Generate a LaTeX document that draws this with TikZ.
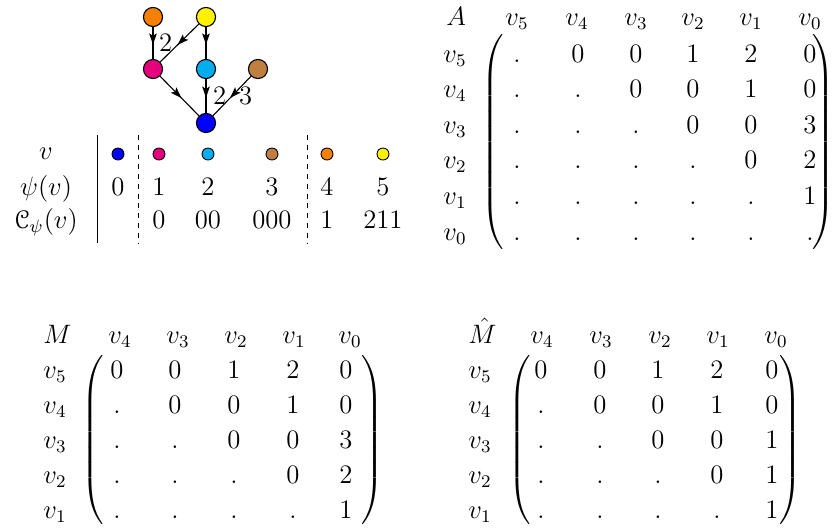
\documentclass[tikz,border=0pt]{standalone}
\usepackage{amsmath}
\usepackage{amssymb}
\usepackage{eucal}
\usepackage{xcolor}
\usepackage{tikz}
\usetikzlibrary{arrows.meta,positioning,decorations.markings}

\definecolor{vOrange}{RGB}{247,128,0}
\definecolor{vYellow}{RGB}{255,242,0}
\definecolor{vMagenta}{RGB}{230,0,126}
\definecolor{vCyan}{RGB}{0,174,239}
\definecolor{vBrown}{RGB}{191,127,63}
\definecolor{vBlue}{RGB}{0,0,255}

\begin{document}
\begin{tikzpicture}[
  x=0.45pt,
  y=-0.45pt,
  font=\fontsize{11.5pt}{14pt}\selectfont,
  vert/.style={circle,draw=black,line width=0.5pt,minimum size=8.6pt,inner sep=0pt},
  swatch/.style={circle,draw=black,line width=0.4pt,minimum size=5.4pt,inner sep=0pt},
  flow/.style={line width=0.5pt,postaction={decorate},
    decoration={markings,mark=at position 0.55 with {\arrow{Stealth[length=5pt,width=3.4pt,inset=1pt]}}}},
  wt/.style={inner sep=3pt},
  lab/.style={anchor=base,inner sep=0pt},
  rowlab/.style={anchor=base west,inner sep=0pt},
  sep/.style={line width=0.4pt},
  brk/.style={inner sep=0pt}
]
  \useasboundingbox (0,0) rectangle (834,531);

  % the graph
  \node[vert,fill=vOrange]  (g4) at (153,17)  {};
  \node[vert,fill=vYellow]  (g5) at (206,17)  {};
  \node[vert,fill=vMagenta] (g1) at (153,69)  {};
  \node[vert,fill=vCyan]    (g2) at (206,69)  {};
  \node[vert,fill=vBrown]   (g3) at (258,69)  {};
  \node[vert,fill=vBlue]    (g0) at (206,123) {};
  \draw[flow] (g4) -- (g1);
  \draw[flow] (g5) -- node[wt,left] {$2$} (g1);
  \draw[flow] (g5) -- (g2);
  \draw[flow] (g1) -- (g0);
  \draw[flow] (g2) -- node[wt,right] {$2$} (g0);
  \draw[flow] (g3) -- node[wt,right] {$3$} (g0);

  % the table
  \node[lab] (t-v)   at (46,159) {$v$};
  \node[lab] (t-psi) at (46,195) {$\psi(v)$};
  \node[lab] (t-c)   at (46,228) {$\mathcal{C}_{\psi}(v)$};
  \draw[sep] (97,135) -- (97,243);
  \draw[sep,dash pattern=on 2.2pt off 2.2pt] (138,135) -- (138,243);
  \draw[sep,dash pattern=on 2.2pt off 2.2pt] (307,135) -- (307,243);
  \foreach \col/\x/\code [count=\i from 0] in
      {vBlue/118/{},vMagenta/159/0,vCyan/208/00,vBrown/272/000,vOrange/327/1,vYellow/383/211} {
    \node[swatch,fill=\col] (s\i) at (\x,154) {};
    \node[lab] (p\i) at (\x,195) {$\i$};
    \node[lab] (c\i) at (\x,228) {$\code$};
  }

  % matrix A
  \node[rowlab] (a-name) at (446,25) {$A$};
  \foreach \k/\x [count=\j] in {5/517,4/577,3/636,2/693,1/751,0/810}
    \node[lab] (a-h\j) at (\x,25) {$v_{\k}$};
  \foreach \row [count=\r] in {{.,0,0,1,2,0},{.,.,0,0,1,0},{.,.,.,0,0,3},
                               {.,.,.,.,0,2},{.,.,.,.,.,1},{.,.,.,.,.,.}} {
    \pgfmathsetmacro{\y}{62+35.6*(\r-1)}
    \pgfmathtruncatemacro{\k}{6-\r}
    \node[rowlab] (a-r\r) at (443,\y) {$v_{\k}$};
    \foreach \e [count=\c] in \row {
      \pgfmathsetmacro{\x}{{517,578,636,693,751,810}[\c-1]}
      \node[lab] (a-\r-\c) at (\x,\y) {$\e$};
    }
  }
  \node[brk,anchor=west] (a-lp) at (481,143) {$\left(\vrule height 46pt depth 46pt width 0pt\right.$};
  \node[brk,anchor=east] (a-rp) at (835,143) {$\left.\vrule height 46pt depth 46pt width 0pt\right)$};

  % matrix M
  \node[rowlab] (m-name) at (43,343) {$M$};
  \foreach \k/\x [count=\j] in {4/120,3/178,2/236,1/294,0/350}
    \node[lab] (m-h\j) at (\x,343) {$v_{\k}$};
  \foreach \row [count=\r] in {{0,0,1,2,0},{.,0,0,1,0},{.,.,0,0,3},
                               {.,.,.,0,2},{.,.,.,.,1}} {
    \pgfmathsetmacro{\y}{378+35*(\r-1)}
    \pgfmathtruncatemacro{\k}{6-\r}
    \node[rowlab] (m-r\r) at (43,\y) {$v_{\k}$};
    \foreach \e [count=\c] in \row {
      \pgfmathsetmacro{\x}{{117,175,234,293,346}[\c-1]}
      \node[lab] (m-\r-\c) at (\x,\y) {$\e$};
    }
  }
  \node[brk,anchor=west] (m-lp) at (81,442) {$\left(\vrule height 37pt depth 37pt width 0pt\right.$};
  \node[brk,anchor=east] (m-rp) at (384,442) {$\left.\vrule height 37pt depth 37pt width 0pt\right)$};

  % matrix M hat
  \node[rowlab] (h-name) at (468,343) {$\hat{M}$};
  \foreach \k/\x [count=\j] in {4/542,3/601,2/660,1/718,0/776}
    \node[lab] (h-h\j) at (\x,343) {$v_{\k}$};
  \foreach \row [count=\r] in {{0,0,1,2,0},{.,0,0,1,0},{.,.,0,0,1},
                               {.,.,.,0,1},{.,.,.,.,1}} {
    \pgfmathsetmacro{\y}{378+35*(\r-1)}
    \pgfmathtruncatemacro{\k}{6-\r}
    \node[rowlab] (h-r\r) at (468,\y) {$v_{\k}$};
    \foreach \e [count=\c] in \row {
      \pgfmathsetmacro{\x}{{541,600,658,717,772}[\c-1]}
      \node[lab] (h-\r-\c) at (\x,\y) {$\e$};
    }
  }
  \node[brk,anchor=west] (h-lp) at (508,442) {$\left(\vrule height 37pt depth 37pt width 0pt\right.$};
  \node[brk,anchor=east] (h-rp) at (802,442) {$\left.\vrule height 37pt depth 37pt width 0pt\right)$};
\end{tikzpicture}
\end{document}
